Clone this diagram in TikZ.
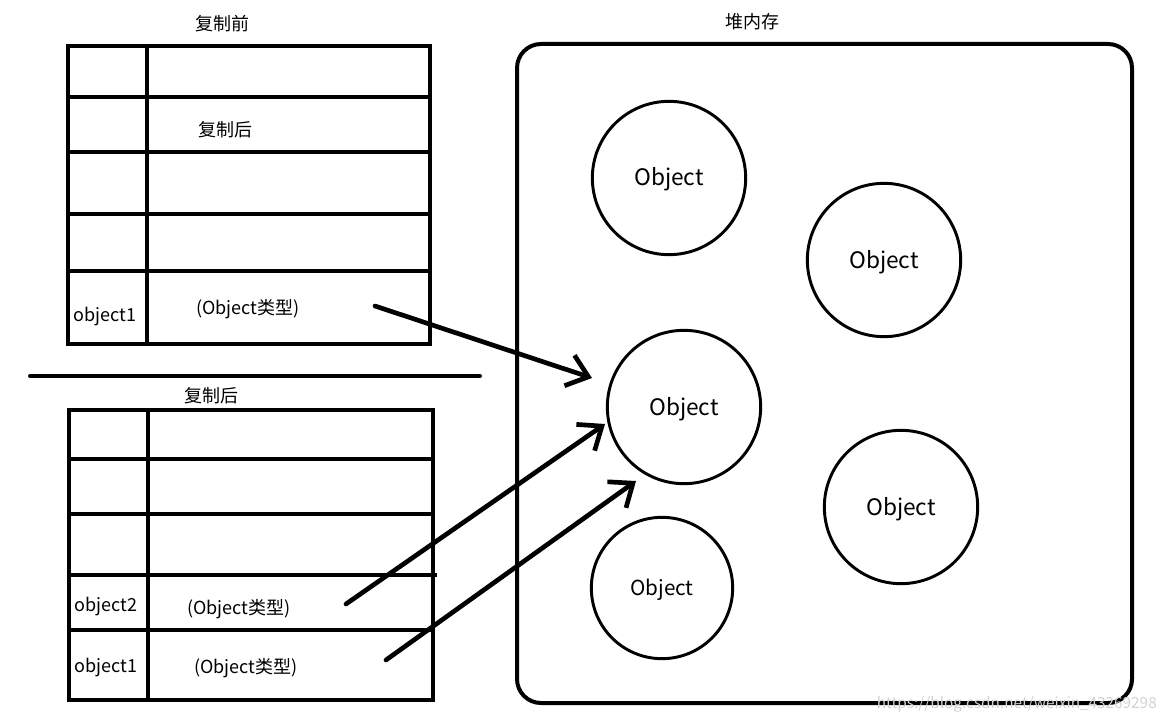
\documentclass[tikz,border=0pt]{standalone}
\usepackage{fontspec}
\setmainfont{Noto Sans CJK SC}
\usetikzlibrary{arrows.meta}
\begin{document}
\begin{tikzpicture}[x=0.75pt,y=-0.75pt,
  tbl/.style={line width=3pt},
  obj/.style={circle,draw,line width=2.2pt,minimum size=115pt,inner sep=0pt,text depth=0pt,text height=12pt,font=\fontsize{17}{19}\selectfont},
  lbl/.style={inner sep=0pt,font=\fontsize{13.5}{15}\selectfont},
  ttl/.style={inner sep=0pt,font=\fontsize{13.5}{15}\selectfont},
  ptr/.style={line width=3.5pt,line cap=round,-{Straight Barb[length=15pt,width=24pt,line width=3.5pt]}}]
\useasboundingbox (0,0) rectangle (1162,720);
% top table
\node[ttl] (t1) at (222,24) {复制前};
\draw[tbl] (68,46) rectangle (430,344);
\draw[tbl] (147,46) -- (147,346);
\draw[tbl] (68,97) -- (430,97);
\draw[tbl] (68,152) -- (430,152);
\draw[tbl] (66,214) -- (432,214);
\draw[tbl] (68,271) -- (430,271);
\node[ttl] (t1b) at (225,130) {复制后};
\node[lbl] (a1) at (105,317) {object1};
\node[lbl] (a1t) at (248,309) {(Object类型)};
% separator
\draw[line width=3pt,line cap=round] (30,376) -- (480,376);
% bottom table
\node[ttl] (t2) at (211,396) {复制后};
\draw[tbl] (69,410) rectangle (433,700);
\draw[tbl] (148,410) -- (148,702);
\draw[tbl] (69,459) -- (433,459);
\draw[tbl] (69,514) -- (435,514);
\draw[tbl] (67,575) -- (437,575);
\draw[tbl] (69,630) -- (433,630);
\node[lbl] (b2) at (106,607) {object2};
\node[lbl] (b2t) at (239,609) {(Object类型)};
\node[lbl] (b1) at (106,668) {object1};
\node[lbl] (b1t) at (246,668) {(Object类型)};
% heap
\node[ttl] (h) at (752,22) {堆内存};
\draw[line width=3pt,rounded corners=18pt] (517,44) rectangle (1132,703);
\node[obj] (c1) at (669,178) {Object};
\node[obj] (c2) at (884,260) {Object};
\node[obj] (c3) at (684,407) {Object};
\node[obj] (c4) at (901,507) {Object};
\node[obj,minimum size=106pt,text height=11pt,font=\fontsize{15.5}{17}\selectfont] (c5) at (662,588) {Object};
% pointers
\coordinate (s1) at (375,306);
\coordinate (e1) at (592,378);
\coordinate (s2) at (346,604);
\coordinate (e2) at (605,424);
\coordinate (s3) at (386,660);
\coordinate (e3) at (636,481);
\draw[ptr] (s1) -- (e1);
\draw[ptr] (s2) -- (e2);
\draw[ptr] (s3) -- (e3);
% watermark
\node[inner sep=0pt,anchor=east,text=gray!35,font=\fontsize{11.5}{13}\selectfont] (wm) at (1157,704) {https://blog.csdn.net/weixin\_43269298};
\end{tikzpicture}
\end{document}
